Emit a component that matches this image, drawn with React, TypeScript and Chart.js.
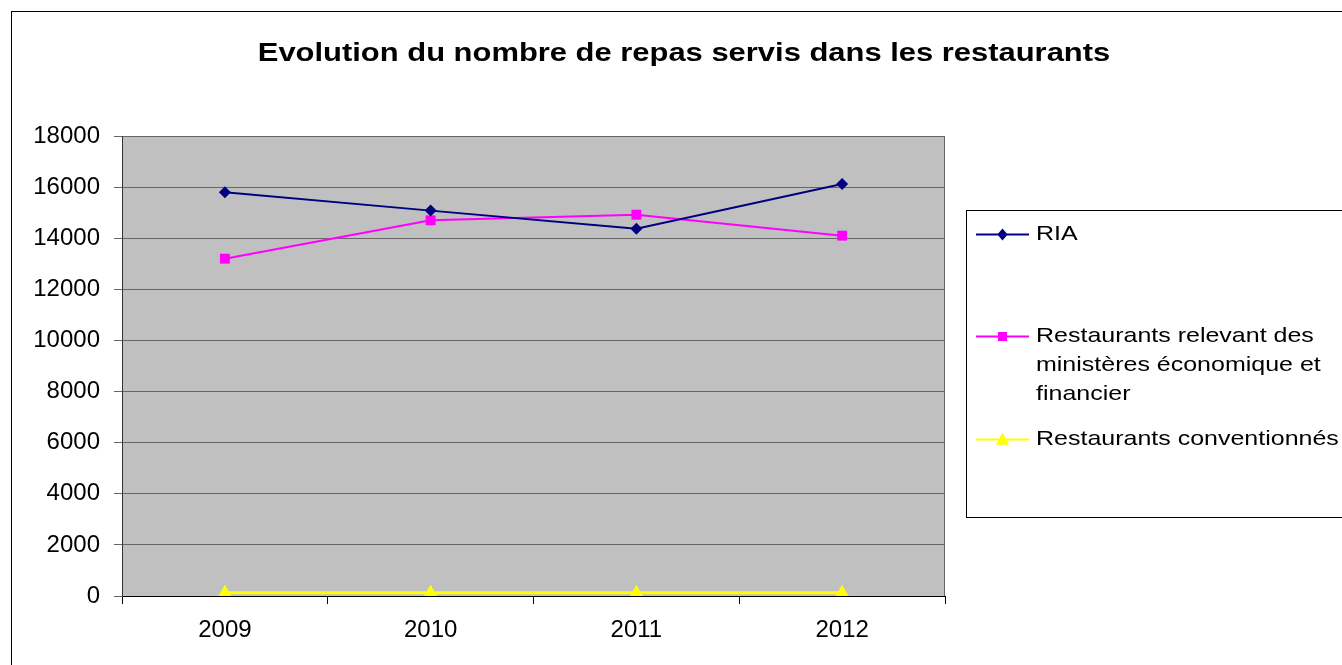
import React, { useEffect, useRef } from 'react';
import { Chart, registerables } from 'chart.js';

Chart.register(...registerables);

const years = ['2009', '2010', '2011', '2012'];
const ria = [15800, 15080, 14370, 16120];
const ministeres = [13200, 14700, 14920, 14100];
const conventionnes = [130, 130, 130, 130];
const seriesNames = [
  'RIA',
  'Restaurants relevant des ministères économique et financier',
  'Restaurants conventionnés',
];
const chartTitle = 'Evolution du nombre de repas servis dans les restaurants';
const yMin = 0;
const yMax = 18000;
const yStep = 2000;

const FONT = '"Liberation Sans", Arial, Helvetica, sans-serif';
const LEGEND_FONT_SIZE = 21;
const LEGEND_STRETCH = 1.19;
const TITLE_FONT_SIZE = 26.5;
const TITLE_STRETCH = 1.167;

type Marker = 'rectRot' | 'rect' | 'triangle';
const markers: Marker[] = ['rectRot', 'rect', 'triangle'];
const colors = ['#000080', '#FF00FF', '#FFFF00'];

function drawMarker(ctx: CanvasRenderingContext2D, kind: Marker, x: number, y: number, r: number, color: string) {
  ctx.save();
  ctx.fillStyle = color;
  ctx.beginPath();
  if (kind === 'rectRot') {
    ctx.moveTo(x - r * 0.85, y);
    ctx.lineTo(x, y - r);
    ctx.lineTo(x + r * 0.85, y);
    ctx.lineTo(x, y + r);
  } else if (kind === 'rect') {
    ctx.rect(x - r, y - r, 2 * r, 2 * r);
  } else {
    ctx.moveTo(x, y - r);
    ctx.lineTo(x + r * 0.95, y + r * 0.75);
    ctx.lineTo(x - r * 0.95, y + r * 0.75);
  }
  ctx.closePath();
  ctx.fill();
  ctx.restore();
}

function wrap(ctx: CanvasRenderingContext2D, text: string, maxW: number, stretch: number): string[] {
  const words = text.split(' ');
  const lines: string[] = [];
  let cur = '';
  for (const w of words) {
    const test = cur ? cur + ' ' + w : w;
    if (ctx.measureText(test).width * stretch > maxW && cur) {
      lines.push(cur);
      cur = w;
    } else {
      cur = test;
    }
  }
  if (cur) lines.push(cur);
  return lines;
}

function stretchedText(ctx: CanvasRenderingContext2D, text: string, x: number, y: number, sx: number) {
  ctx.save();
  ctx.translate(x, y);
  ctx.scale(sx, 1);
  ctx.fillText(text, 0, 0);
  ctx.restore();
}

export default function App() {
  const ref = useRef<HTMLCanvasElement>(null);

  useEffect(() => {
    if (!ref.current) return;

    const framePlugin = {
      id: 'framePlugin',
      beforeDraw(chart: any) {
        const { ctx, chartArea } = chart;
        ctx.save();
        ctx.fillStyle = '#FFFFFF';
        ctx.fillRect(0, 0, chart.width, chart.height);
        ctx.fillStyle = '#C0C0C0';
        ctx.fillRect(chartArea.left, chartArea.top, chartArea.right - chartArea.left, chartArea.bottom - chartArea.top);
        ctx.restore();
      },
      beforeDatasetsDraw(chart: any) {
        const { ctx, chartArea } = chart;
        ctx.save();
        ctx.strokeStyle = '#666666';
        ctx.lineWidth = 1;
        ctx.beginPath();
        ctx.moveTo(Math.round(chartArea.right) - 0.5, chartArea.top);
        ctx.lineTo(Math.round(chartArea.right) - 0.5, chartArea.bottom);
        ctx.stroke();
        ctx.restore();
      },
      afterDraw(chart: any) {
        const { ctx } = chart;
        ctx.save();
        // outer chart border
        ctx.strokeStyle = '#000000';
        ctx.lineWidth = 1;
        ctx.strokeRect(11.5, 11.5, 1400, 700);

        // title
        ctx.fillStyle = '#000000';
        ctx.font = `bold ${TITLE_FONT_SIZE}px ${FONT}`;
        ctx.textAlign = 'center';
        ctx.textBaseline = 'middle';
        stretchedText(ctx, chartTitle, 684, 54, TITLE_STRETCH);

        // legend
        const lx = 966.5;
        const ly = 210.5;
        const lw = 420;
        const lh = 307;
        ctx.strokeStyle = '#000000';
        ctx.lineWidth = 1;
        ctx.strokeRect(lx, ly, lw, lh);
        const slot = 102.5;
        ctx.font = `${LEGEND_FONT_SIZE}px ${FONT}`;
        ctx.textBaseline = 'middle';
        ctx.textAlign = 'left';
        chart.data.datasets.forEach((ds: any, i: number) => {
          const cy = Math.round(ly + i * slot + 23) + 0.5;
          ctx.strokeStyle = ds.borderColor;
          ctx.lineWidth = 2;
          ctx.beginPath();
          ctx.moveTo(976, cy);
          ctx.lineTo(1029, cy);
          ctx.stroke();
          const r = i === 2 ? 7 : i === 1 ? 4.5 : 6;
          drawMarker(ctx, markers[i], 1002.5, cy, r, ds.backgroundColor);
          ctx.fillStyle = '#000000';
          const lines = wrap(ctx, ds.label, 306, LEGEND_STRETCH);
          lines.forEach((line, k) => {
            stretchedText(ctx, line, 1036, cy + k * 29, LEGEND_STRETCH);
          });
        });
        ctx.restore();
      },
    };

    const chart = new Chart(ref.current, {
      type: 'line',
      data: {
        labels: years,
        datasets: [ria, ministeres, conventionnes].map((d, i) => ({
          label: seriesNames[i],
          data: d,
          borderColor: colors[i],
          backgroundColor: colors[i],
          borderWidth: i === 2 ? 3 : 2,
          pointStyle: markers[i],
          pointRadius: i === 0 ? 6 : i === 1 ? 7 : 8,
          pointBorderWidth: 0,
          pointBackgroundColor: colors[i],
          pointBorderColor: colors[i],
          tension: 0,
          fill: false,
        })),
      },
      options: {
        responsive: false,
        animation: false,
        events: [],
        layout: { padding: { left: 0, right: 397, top: 136, bottom: 0 } },
        plugins: {
          legend: { display: false },
          tooltip: { enabled: false },
          title: { display: false },
        },
        scales: {
          x: {
            type: 'category',
            offset: true,
            afterFit(scale: any) {
              scale.height = 69;
            },
            grid: {
              offset: true,
              drawOnChartArea: false,
              drawTicks: true,
              tickLength: 8,
              tickColor: '#000000',
              color: '#000000',
            },
            border: { display: true, color: '#000000', width: 1 },
            ticks: {
              color: '#000000',
              font: { family: FONT, size: 24 },
              padding: 12,
              maxRotation: 0,
            },
          },
          y: {
            min: yMin,
            max: yMax,
            afterFit(scale: any) {
              scale.width = 122;
            },
            grid: {
              color: '#666666',
              lineWidth: 1,
              drawTicks: true,
              tickLength: 8,
              tickColor: '#666666',
            },
            border: { display: true, color: '#333333', width: 1 },
            ticks: {
              stepSize: yStep,
              color: '#000000',
              font: { family: FONT, size: 24 },
              padding: 14,
              callback: (v: any) => String(v),
            },
          },
        },
      },
      plugins: [framePlugin],
    });

    return () => chart.destroy();
  }, []);

  return (
    <div style={{ position: 'fixed', left: 0, top: 0, width: 1342, height: 665, background: '#fff' }}>
      <canvas ref={ref} width={1342} height={665} style={{ display: 'block' }} />
    </div>
  );
}
